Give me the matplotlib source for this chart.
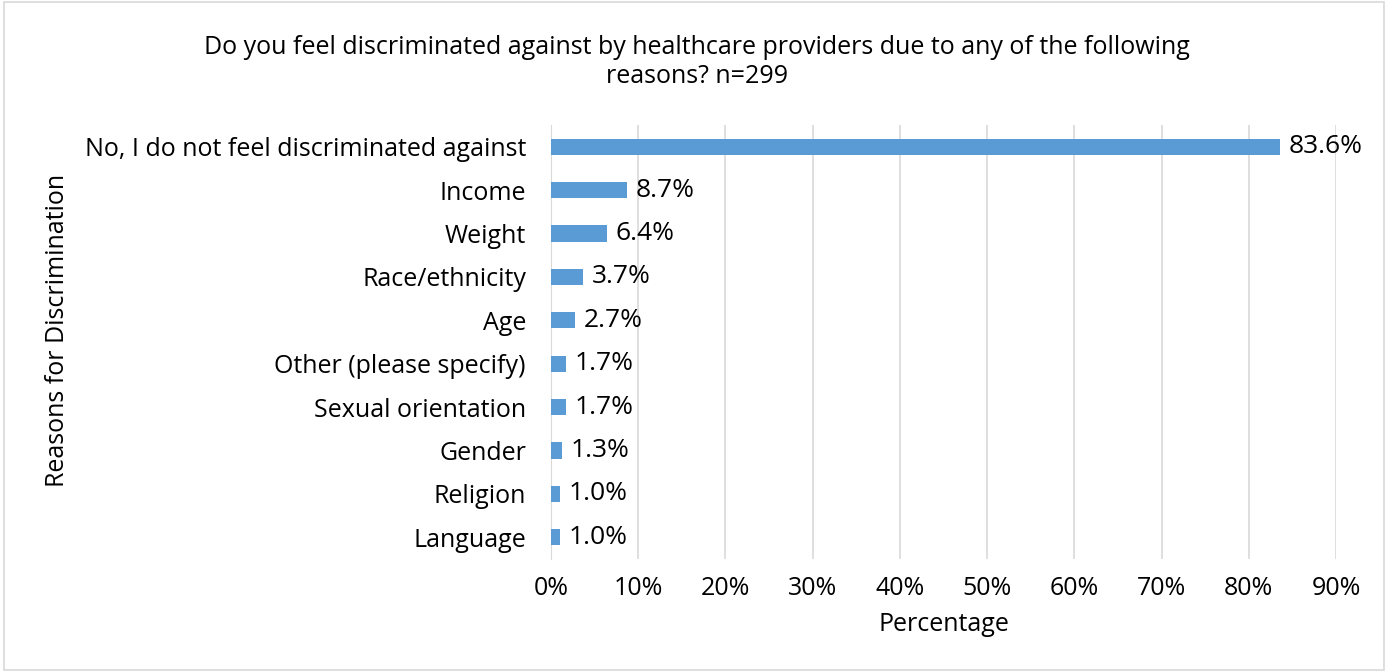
import matplotlib.pyplot as plt
from matplotlib.patches import Rectangle
from matplotlib.ticker import PercentFormatter

categories = ['No, I do not feel discriminated against', 'Income', 'Weight',
              'Race/ethnicity', 'Age', 'Other (please specify)',
              'Sexual orientation', 'Gender', 'Religion', 'Language']
values = [83.6, 8.7, 6.4, 3.7, 2.7, 1.7, 1.7, 1.3, 1.0, 1.0]
xticks = [0, 10, 20, 30, 40, 50, 60, 70, 80, 90]

plt.rcParams['font.family'] = ['Open Sans', 'DejaVu Sans']
fs = 18

fig = plt.figure(figsize=(13.88, 6.72), dpi=100)
ax = fig.add_axes([551 / 1388, 1 - 559 / 672, 785 / 1388, 434 / 672])

ypos = list(range(len(categories)))[::-1]
ax.barh(ypos, values, height=0.37, color='#5B9BD5', zorder=3)
for y, v in zip(ypos, values):
    ax.text(v + 1.0, y, f'{v:.1f}%', va='center', ha='left', fontsize=19, color='#000000')

ax.set_yticks(ypos)
ax.set_yticklabels(categories, fontsize=fs)
ax.set_xticks(xticks)
ax.xaxis.set_major_formatter(PercentFormatter(decimals=0))
ax.tick_params(axis='x', labelsize=fs, length=0, pad=12)
ax.tick_params(axis='y', length=0, pad=18)
ax.set_xlim(0, 90)
ax.set_ylim(-0.5, 9.5)
ax.grid(axis='x', color='#D9D9D9', linewidth=1.2, zorder=0)
for s in ['top', 'right', 'bottom']:
    ax.spines[s].set_visible(False)
ax.spines['left'].set_color('#D9D9D9')

ax.set_xlabel('Percentage', fontsize=fs, labelpad=8)
fig.text(58 / 1388, 1 - 330 / 672, 'Reasons for Discrimination', rotation=90,
         fontsize=fs, ha='center', va='center')
fig.text(697 / 1388, 1 - 62 / 672,
         'Do you feel discriminated against by healthcare providers due to any of the following\nreasons? n=299',
         fontsize=fs, ha='center', va='center', linespacing=1.25)

fig.patches.append(Rectangle((0.003, 0.003), 0.994, 0.994, transform=fig.transFigure,
                             fill=False, edgecolor='#D9D9D9', linewidth=1.2))

fig.savefig('out.png', dpi=100)
